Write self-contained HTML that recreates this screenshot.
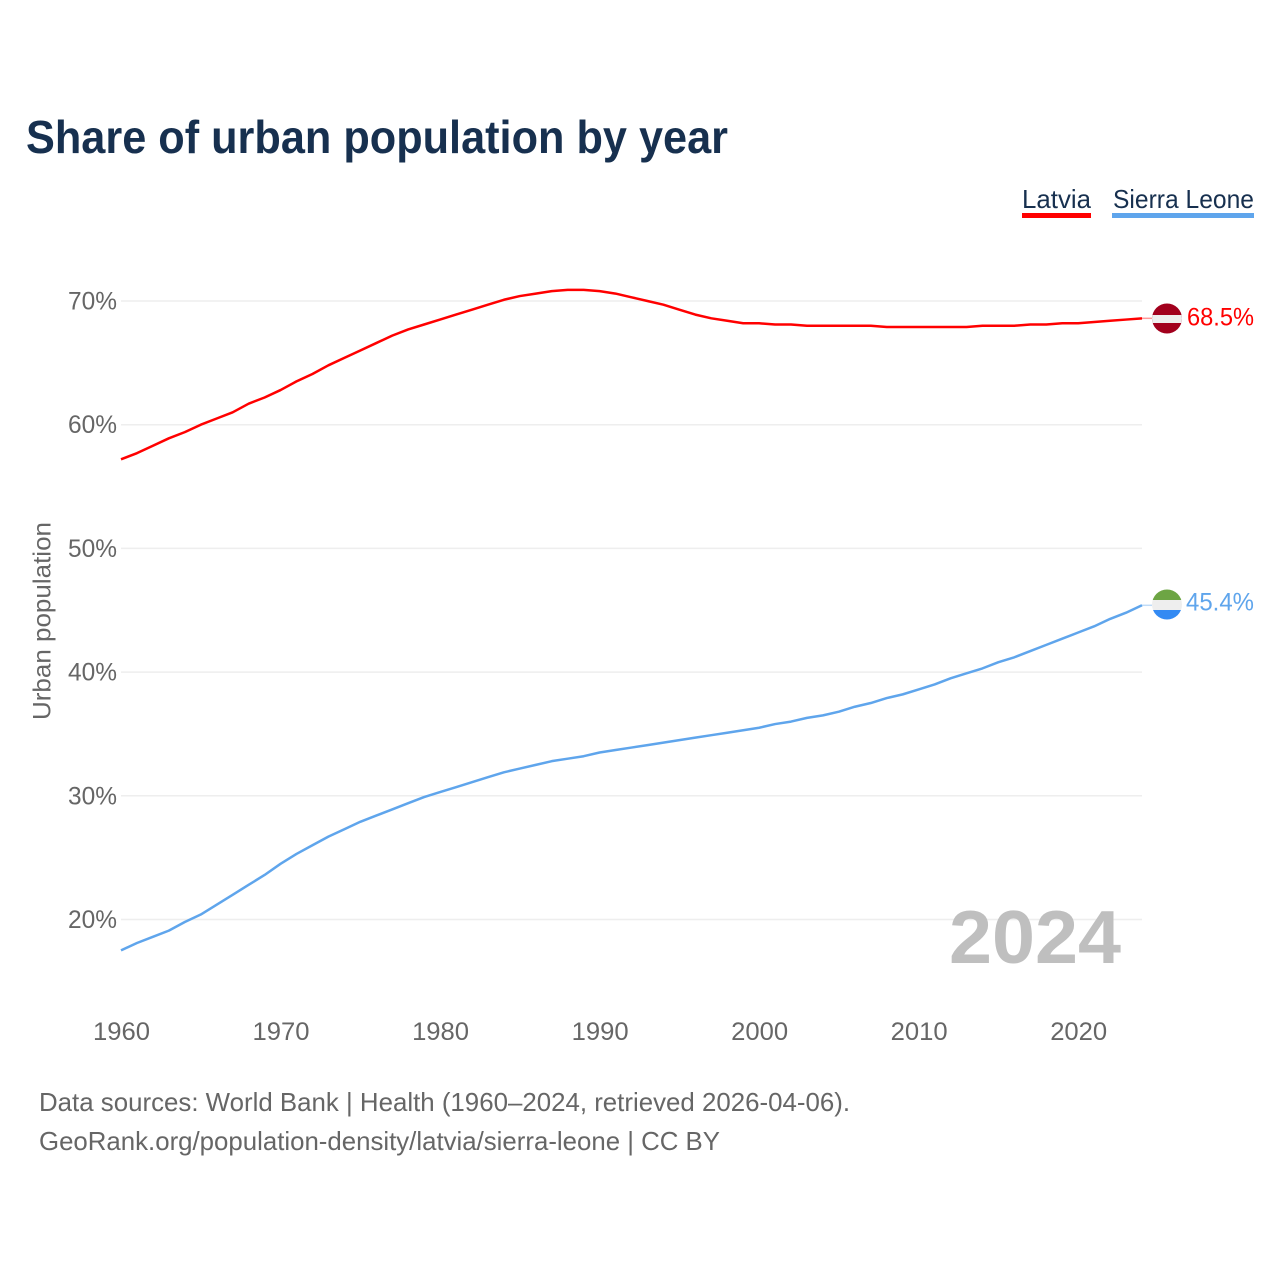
<!DOCTYPE html>
<html lang="en">
<head>
<meta charset="utf-8">
<title>Share of urban population by year</title>
<style>
html,body{margin:0;padding:0;background:#fff}
svg{display:block}
text{font-family:"Liberation Sans",sans-serif}
</style>
</head>
<body>
<svg id="chart" width="1280" height="1280" viewBox="0 0 1280 1280" xmlns="http://www.w3.org/2000/svg">
  <rect x="0" y="0" width="1280" height="1280" fill="#fff"/>
  <text x="26" y="153" font-size="46" font-weight="700" fill="#17304f" textLength="702" lengthAdjust="spacingAndGlyphs">Share of urban population by year</text>

  <g>
    <text x="1022" y="208" font-size="26" fill="#17304f" textLength="69" lengthAdjust="spacingAndGlyphs">Latvia</text>
    <rect x="1022" y="213" width="69" height="5" fill="#ff0000"/>
  </g>
  <g>
    <text x="1113" y="208" font-size="26" fill="#17304f" textLength="141" lengthAdjust="spacingAndGlyphs">Sierra Leone</text>
    <rect x="1112" y="213" width="142" height="5" fill="#5fa5ec"/>
  </g>

  <g id="grid"></g>
  <g id="yticks"></g>
  <g id="xticks"></g>

  <text transform="translate(50.5,720) rotate(-90)" x="0" y="0" font-size="25" fill="#666" textLength="198" lengthAdjust="spacingAndGlyphs">Urban population</text>

  <text x="949" y="963" font-size="75" font-weight="700" fill="#bfbfbf" textLength="172" lengthAdjust="spacingAndGlyphs">2024</text>

  <g id="series"></g>

  <g>
    <clipPath id="clip-lv"><circle cx="1167" cy="318.5" r="15"/></clipPath>
    <g clip-path="url(#clip-lv)">
      <rect x="1151" y="303" width="32" height="31" fill="#a2001d"/>
      <rect x="1151" y="315" width="32" height="8" fill="#eeeeee"/>
    </g>
  </g>
  <g>
    <clipPath id="clip-sl"><circle cx="1167" cy="604.5" r="15"/></clipPath>
    <g clip-path="url(#clip-sl)">
      <rect x="1151" y="589" width="32" height="11" fill="#6da544"/>
      <rect x="1151" y="600" width="32" height="10" fill="#eeeeee"/>
      <rect x="1151" y="610" width="32" height="11" fill="#338af3"/>
    </g>
  </g>

  <text x="1187" y="325.5" font-size="25" fill="#ff0000" textLength="67" lengthAdjust="spacingAndGlyphs">68.5%</text>
  <text x="1186" y="610.5" font-size="25" fill="#5fa5ec" textLength="68" lengthAdjust="spacingAndGlyphs">45.4%</text>

  <text x="39" y="1111" font-size="26" fill="#666" textLength="811" lengthAdjust="spacingAndGlyphs">Data sources: World Bank | Health (1960–2024, retrieved 2026-04-06).</text>
  <text x="39" y="1150" font-size="26" fill="#666" textLength="681" lengthAdjust="spacingAndGlyphs">GeoRank.org/population-density/latvia/sierra-leone | CC BY</text>
</svg>
<script>
const startYear = 1960;
const endYear = 2024;
const latviaValues = [57.2,57.7,58.3,58.9,59.4,60.0,60.5,61.0,61.7,62.2,62.8,63.5,64.1,64.8,65.4,66.0,66.6,67.2,67.7,68.1,68.5,68.9,69.3,69.7,70.1,70.4,70.6,70.8,70.9,70.9,70.8,70.6,70.3,70.0,69.7,69.3,68.9,68.6,68.4,68.2,68.2,68.1,68.1,68.0,68.0,68.0,68.0,68.0,67.9,67.9,67.9,67.9,67.9,67.9,68.0,68.0,68.0,68.1,68.1,68.2,68.2,68.3,68.4,68.5,68.6];
const sierraLeoneValues = [17.5,18.1,18.6,19.1,19.8,20.4,21.2,22.0,22.8,23.6,24.5,25.3,26.0,26.7,27.3,27.9,28.4,28.9,29.4,29.9,30.3,30.7,31.1,31.5,31.9,32.2,32.5,32.8,33.0,33.2,33.5,33.7,33.9,34.1,34.3,34.5,34.7,34.9,35.1,35.3,35.5,35.8,36.0,36.3,36.5,36.8,37.2,37.5,37.9,38.2,38.6,39.0,39.5,39.9,40.3,40.8,41.2,41.7,42.2,42.7,43.2,43.7,44.3,44.8,45.4];
const yTickValues = [20,30,40,50,60,70];
const xTickValues = [1960,1970,1980,1990,2000,2010,2020];

const NS = 'http://www.w3.org/2000/svg';
const xLeft = 121, xRight = 1142;
const x = year => xLeft + (year - startYear) * (xRight - xLeft) / (endYear - startYear);
const y = value => 301 + (70 - value) * 12.37;

const grid = document.getElementById('grid');
const yticks = document.getElementById('yticks');
const xticks = document.getElementById('xticks');
const series = document.getElementById('series');

yTickValues.forEach(function (v) {
  const line = document.createElementNS(NS, 'line');
  
  
  line.setAttribute('x1', xLeft);
  line.setAttribute('x2', xRight);
  line.setAttribute('y1', y(v));
  line.setAttribute('y2', y(v));
  line.setAttribute('stroke', '#eeeeee');
  line.setAttribute('stroke-width', '1.5');
  grid.appendChild(line);

  const label = document.createElementNS(NS, 'text');
  
  
  label.setAttribute('x', 68);
  label.setAttribute('y', y(v) + 8.5);
  label.setAttribute('font-size', '25');
  label.setAttribute('fill', '#666');
  label.setAttribute('textLength', '49');
  label.setAttribute('lengthAdjust', 'spacingAndGlyphs');
  label.textContent = v + '%';
  yticks.appendChild(label);
});

xTickValues.forEach(function (t) {
  const label = document.createElementNS(NS, 'text');
  
  
  label.setAttribute('x', x(t) - 28);
  label.setAttribute('y', 1040);
  label.setAttribute('font-size', '25');
  label.setAttribute('fill', '#666');
  label.setAttribute('textLength', '57');
  label.setAttribute('lengthAdjust', 'spacingAndGlyphs');
  label.textContent = t;
  xticks.appendChild(label);
});

function linePath(values) {
  return values.map(function (v, i) {
    return (i ? 'L' : 'M') + x(startYear + i).toFixed(2) + ' ' + y(v).toFixed(2);
  }).join(' ');
}

const latviaLine = document.createElementNS(NS, 'path');


latviaLine.setAttribute('d', linePath(latviaValues));
latviaLine.setAttribute('fill', 'none');
latviaLine.setAttribute('stroke', '#ff0000');
latviaLine.setAttribute('stroke-width', '2.5');
latviaLine.setAttribute('stroke-linejoin', 'round');
series.appendChild(latviaLine);

const sierraLine = document.createElementNS(NS, 'path');


sierraLine.setAttribute('d', linePath(sierraLeoneValues));
sierraLine.setAttribute('fill', 'none');
sierraLine.setAttribute('stroke', '#5fa5ec');
sierraLine.setAttribute('stroke-width', '2.5');
sierraLine.setAttribute('stroke-linejoin', 'round');
series.appendChild(sierraLine);

const latviaConnector = document.createElementNS(NS, 'line');


latviaConnector.setAttribute('x1', xRight);
latviaConnector.setAttribute('x2', 1152);
latviaConnector.setAttribute('y1', y(latviaValues[latviaValues.length - 1]));
latviaConnector.setAttribute('y2', y(latviaValues[latviaValues.length - 1]));
latviaConnector.setAttribute('stroke', '#ff0000');
latviaConnector.setAttribute('stroke-opacity', '0.4');
latviaConnector.setAttribute('stroke-width', '1.5');
series.appendChild(latviaConnector);

const sierraConnector = document.createElementNS(NS, 'line');


sierraConnector.setAttribute('x1', xRight);
sierraConnector.setAttribute('x2', 1152);
sierraConnector.setAttribute('y1', y(sierraLeoneValues[sierraLeoneValues.length - 1]));
sierraConnector.setAttribute('y2', y(sierraLeoneValues[sierraLeoneValues.length - 1]));
sierraConnector.setAttribute('stroke', '#5fa5ec');
sierraConnector.setAttribute('stroke-opacity', '0.4');
sierraConnector.setAttribute('stroke-width', '1.5');
series.appendChild(sierraConnector);
</script>
</body>
</html>
